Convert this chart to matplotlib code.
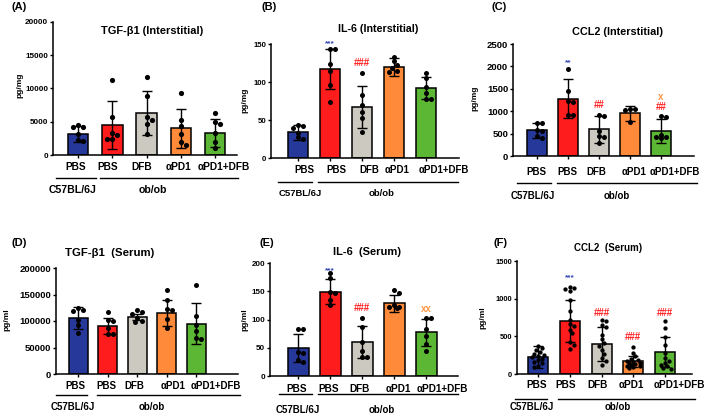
import matplotlib
matplotlib.use('Agg')
import matplotlib.pyplot as plt
from matplotlib.lines import Line2D
import numpy as np

plt.rcParams['font.family'] = ['Liberation Sans', 'DejaVu Sans']
plt.rcParams['font.weight'] = 'bold'

# ---------------- data ----------------
groups = ['PBS', 'PBS', 'DFB', 'αPD1', 'αPD1+DFB']
strain_labels = ['C57BL/6J', 'ob/ob']
bar_colors = ['#26389a', '#ff1c1c', '#ccc9c1', '#ff8a3a', '#5cb734']

A_title = 'TGF-β1 (Interstitial)'
A_ylabel = 'pg/mg'
A_yticks = [0, 5000, 10000, 15000, 20000]
A_means = [3200, 4500, 6300, 4000, 3300]
A_sds = [1200, 3600, 3300, 2900, 2100]
A_points = [[4500, 4200, 4200, 3100, 2200, 2100],
            [11300, 5700, 3300, 3000, 2400, 2400],
            [11700, 8800, 5700, 5300, 4700, 3200],
            [9300, 5200, 4300, 3200, 2000, 1500],
            [6300, 5000, 4700, 3300, 2000, 1100]]
A_annots = []

B_title = 'IL-6 (Interstitial)'
B_ylabel = 'pg/mg'
B_yticks = [0, 50, 100, 150]
B_means = [34, 117, 67, 120, 92]
B_sds = [10, 26, 28, 12, 14]
B_points = [[43, 42, 40, 33, 27, 25],
            [143, 143, 124, 115, 96, 74],
            [112, 83, 70, 61, 52, 34],
            [133, 127, 122, 118, 115, 113],
            [112, 105, 93, 85, 78, 77]]
B_annots = [(1, 151, '***', 'blue'), (2, 125, '###', 'red')]

C_title = 'CCL2 (Interstitial)'
C_ylabel = 'pg/mg'
C_yticks = [0, 500, 1000, 1500, 2000, 2500]
C_means = [570, 1280, 600, 950, 560]
C_sds = [170, 430, 300, 160, 260]
C_points = [[740, 740, 570, 560, 440, 400],
            [1940, 1440, 1230, 1200, 920, 920],
            [910, 900, 560, 440, 420, 300],
            [1060, 1040, 1030, 750],
            [890, 860, 470, 430, 420, 400]]
C_annots = [(1, 2080, '**', 'blue'), (2, 1138, '##', 'red'),
            (4, 1310, 'x', 'orange'), (4, 1087, '##', 'red')]

D_title = 'TGF-β1  (Serum)'
D_ylabel = 'pg/ml'
D_yticks = [0, 50000, 100000, 150000, 200000]
D_means = [105700, 90600, 107500, 115100, 95000]
D_sds = [20000, 15000, 5500, 25000, 39000]
D_points = [[124000, 121400, 119500, 102500, 93000, 77400],
            [116400, 102500, 99400, 86800, 76100, 76100],
            [120000, 116400, 113800, 105000, 99400, 97500],
            [159100, 139000, 123300, 121400, 103800, 86800],
            [168600, 108800, 93000, 80500, 67900, 66000]]
D_annots = []

E_title = 'IL-6  (Serum)'
E_ylabel = 'pg/ml'
E_yticks = [0, 50, 100, 150, 200]
E_means = [50, 149, 60, 129, 77]
E_sds = [25, 22, 29, 15, 24]
E_points = [[83, 83, 42, 40, 29, 25],
            [183, 174, 149, 147, 135, 125],
            [102, 87, 60, 45, 34, 34],
            [152, 147, 125, 123, 122, 121],
            [102, 102, 84, 70, 57, 44]]
E_annots = [(1, 186, '***', 'blue'), (2, 120, '###', 'red'), (4, 119, 'xx', 'orange')]

F_title = 'CCL2  (Serum)'
F_ylabel = 'pg/ml'
F_yticks = [0, 500, 1000, 1500]
F_means = [225, 700, 400, 170, 290]
F_sds = [145, 280, 230, 75, 195]
F_points = [[370, 340, 320, 290, 270, 250, 240, 220, 200, 180, 160, 140, 110, 90],
            [1150, 1135, 1125, 1100, 980, 830, 720, 665, 640, 590, 540, 430, 390, 330],
            [720, 700, 650, 620, 520, 460, 410, 370, 320, 270, 210, 170, 120],
            [360, 280, 235, 200, 185, 170, 160, 150, 140, 130, 120, 110, 100, 90, 80],
            [700, 610, 485, 390, 280, 210, 170, 150, 125, 100, 80, 60]]
F_annots = [(1, 1280, '***', 'blue'), (2, 814, '###', 'red'),
            (3, 487, '###', 'red'), (4, 814, '###', 'red')]

annot_colors = {'blue': '#3345b5', 'red': '#ff2020', 'orange': '#ff9545'}

# ---------------- layout (pixels) ----------------
W, H = 709, 419
fig = plt.figure(figsize=(W / 100, H / 100), dpi=100)


def fx(px):
    return px / W


def fy(py):
    return 1 - py / H


layout = {
    'A': dict(l=53, r=237, t=22, b=155, c0=78, c4=215, bw=20.5, lab=(11, 7), tit=(152, 31), yl=(20, 85),
              tky=167, gy=178, g1=(56, 96), g2=(100, 238), gly=190, g1x=73, g2x=153,
              xoff=[-2, -5, -5, -2, 9],
              yfs=5.9, xfs=7.3, tfs=7.9, gfs=7.6, dot=5.2),
    'B': dict(l=271, r=459, t=44, b=158, c0=298, c4=426, bw=20, lab=(262, 7), tit=(378, 29), yl=(245, 100),
              tky=170, gy=182, g1=(278, 312), g2=(318, 458), gly=193, g1x=300, g2x=382,
              xoff=[6, 6, 7, 3, 18],
              yfs=5.6, xfs=7.0, tfs=7.7, gfs=6.8, dot=5.0),
    'C': dict(l=513, r=694, t=44, b=156, c0=537, c4=661, bw=20.5, lab=(492, 7), tit=(617, 32), yl=(475, 98),
              tky=172, gy=183, g1=(517, 551), g2=(557, 697), gly=196, g1x=533, g2x=617,
              xoff=[-1, -1, -3, 4, 14],
              yfs=6.8, xfs=7.0, tfs=7.8, gfs=7.0, dot=5.0),
    'D': dict(l=56, r=238, t=268, b=374, c0=78, c4=196, bw=19, lab=(11, 243), tit=(110, 253), yl=(7, 320),
              tky=386, gy=395, g1=(56, 87), g2=(97, 240), gly=407, g1x=73, g2x=152,
              xoff=[-3, -1, -3, 7, 20],
              yfs=6.8, xfs=7.0, tfs=8.2, gfs=7.0, dot=5.0),
    'E': dict(l=270, r=458, t=263, b=376, c0=298, c4=426, bw=21, lab=(259, 243), tit=(367, 252), yl=(245, 320),
              tky=389, gy=394, g1=(279, 312), g2=(318, 458), gly=410, g1x=298, g2x=382,
              xoff=[-1, -1, -2, 4, 16],
              yfs=5.8, xfs=7.2, tfs=8.0, gfs=7.0, dot=5.0),
    'F': dict(l=517, r=692, t=261, b=374, c0=538, c4=665, bw=20, lab=(494, 243), tit=(608, 248), yl=(483, 318),
              tky=385, gy=399, g1=(515, 547), g2=(558, 695), gly=407, g1x=532, g2x=618,
              xoff=[-1, -4, -4, -2, 14],
              yfs=5.4, xfs=7.2, tfs=7.0, gfs=7.0, dot=4.3),
}

data = {
    'A': (A_title, A_ylabel, A_yticks, A_means, A_sds, A_points, A_annots),
    'B': (B_title, B_ylabel, B_yticks, B_means, B_sds, B_points, B_annots),
    'C': (C_title, C_ylabel, C_yticks, C_means, C_sds, C_points, C_annots),
    'D': (D_title, D_ylabel, D_yticks, D_means, D_sds, D_points, D_annots),
    'E': (E_title, E_ylabel, E_yticks, E_means, E_sds, E_points, E_annots),
    'F': (F_title, F_ylabel, F_yticks, F_means, F_sds, F_points, F_annots),
}


def swarm(values, ymax, h_px, d_px, max_px):
    """Return x offsets (pixels) so that dots do not overlap much."""
    placed = []
    offs = []
    cands = [0.0]
    k = 1
    while k * d_px * 0.5 <= max_px + 1e-9:
        cands += [k * d_px * 0.5, -k * d_px * 0.5]
        k += 1
    for v in values:
        ypx = v / ymax * h_px
        best, best_score = None, None
        for c in cands:
            mind = min([np.hypot(c - px, ypx - py) for px, py in placed] + [1e9])
            if mind >= 0.9 * d_px:
                best = c
                break
            if best_score is None or mind > best_score:
                best_score, best = mind, c
        placed.append((best, ypx))
        offs.append(best)
    return offs


for key in 'ABCDEF':
    L = layout[key]
    title, ylabel, yticks, means, sds, points, annots = data[key]
    s = (L['c4'] - L['c0']) / 4.0
    ax = fig.add_axes([fx(L['l']), fy(L['b']), (L['r'] - L['l']) / W, (L['b'] - L['t']) / H])
    ymax = yticks[-1]
    ax.set_xlim((L['l'] - L['c0']) / s, (L['r'] - L['c0']) / s)
    ax.set_ylim(0, ymax)
    x = np.arange(len(groups))
    bw = L['bw'] / s
    ax.bar(x, means, width=bw, color=bar_colors, edgecolor='black', linewidth=1.1, zorder=2)
    ax.errorbar(x, means, yerr=sds, fmt='none', ecolor='black', elinewidth=1.0,
                capsize=3.3, capthick=1.0, zorder=3)
    h_px = L['b'] - L['t']
    for i, pts in enumerate(points):
        offs = swarm(pts, ymax, h_px, L['dot'], 8.0)
        ax.scatter([i + o / s for o in offs], pts, s=(L['dot'] / 1.389) ** 2,
                   color='black', zorder=4, linewidths=0, clip_on=False)
    for (i, yv, txt, col) in annots:
        fs = 6.0 if '*' in txt else 7.0
        ax.text(i, yv, txt, color=annot_colors[col], ha='center', va='center',
                fontsize=fs, fontweight='bold', zorder=5)
    for sp in ['top', 'right']:
        ax.spines[sp].set_visible(False)
    for sp in ['left', 'bottom']:
        ax.spines[sp].set_linewidth(1.1)
    ax.set_yticks(yticks)
    ax.set_yticklabels([str(t) for t in yticks], fontsize=L['yfs'], fontweight='bold')
    ax.set_xticks(x)
    ax.set_xticklabels([''] * len(groups))
    for i, (g, off) in enumerate(zip(groups, L['xoff'])):
        ax.annotate(g, xy=(i, 0), xycoords=('data', 'axes fraction'),
                    xytext=(off, -(L['tky'] - L['b'])), textcoords='offset pixels',
                    ha='center', va='center', fontsize=L['xfs'], fontweight='bold',
                    annotation_clip=False)
    ax.tick_params(axis='y', length=2.5, width=1.0, pad=1.0)
    ax.tick_params(axis='x', length=2.5, width=1.0, pad=3.5)
    ax.set_facecolor('none')
    # texts in figure pixel positions
    fig.text(fx(L['lab'][0]), fy(L['lab'][1]), '(%s)' % key, ha='left', va='center',
             fontsize=8, fontweight='bold')
    fig.text(fx(L['tit'][0]), fy(L['tit'][1]), title, ha='center', va='center',
             fontsize=L['tfs'], fontweight='bold')
    fig.text(fx(L['yl'][0]), fy(L['yl'][1]), ylabel, ha='center', va='center', rotation=90,
             fontsize=6.0, fontweight='bold')
    for (x1, x2) in (L['g1'], L['g2']):
        fig.add_artist(Line2D([fx(x1), fx(x2)], [fy(L['gy']), fy(L['gy'])],
                              transform=fig.transFigure, color='black', linewidth=1.0))
    fig.text(fx(L['g1x']), fy(L['gly']), strain_labels[0], ha='center', va='center',
             fontsize=L['gfs'], fontweight='bold')
    fig.text(fx(L['g2x']), fy(L['gly']), strain_labels[1], ha='center', va='center',
             fontsize=L['gfs'], fontweight='bold')

fig.savefig('out.png', dpi=100, facecolor='white')
